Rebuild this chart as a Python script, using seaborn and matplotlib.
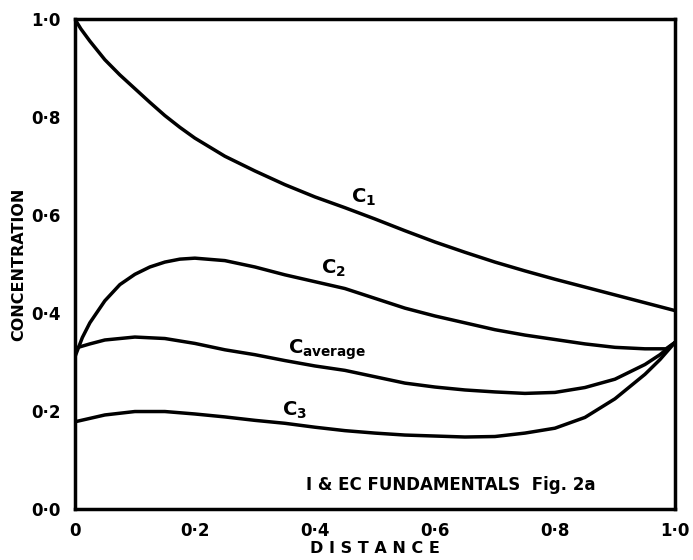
import pandas as pd
import seaborn as sns
import matplotlib.pyplot as plt

# Values
x_c1 = [0, 0.01, 0.025, 0.05, 0.075, 0.1, 0.125, 0.15, 0.175, 0.2, 0.25, 0.3,
        0.35, 0.4, 0.45, 0.5, 0.55, 0.6, 0.65, 0.7, 0.75, 0.8, 0.85, 0.9, 0.95,
        0.975, 1.0]
c1 = [1.0, 0.98, 0.955, 0.917, 0.886, 0.858, 0.83, 0.803, 0.779, 0.757, 0.72,
      0.69, 0.662, 0.637, 0.615, 0.592, 0.568, 0.545, 0.524, 0.504, 0.486,
      0.469, 0.453, 0.437, 0.421, 0.413, 0.405]

x_c2 = [0, 0.0125, 0.025, 0.05, 0.075, 0.1, 0.125, 0.15, 0.175, 0.2, 0.25, 0.3,
        0.35, 0.4, 0.45, 0.5, 0.55, 0.6, 0.65, 0.7, 0.75, 0.8, 0.85, 0.9, 0.95,
        0.985, 1.0]
c2 = [0.31, 0.35, 0.38, 0.425, 0.458, 0.479, 0.494, 0.504, 0.51, 0.512, 0.507,
      0.494, 0.478, 0.464, 0.45, 0.43, 0.41, 0.394, 0.38, 0.366, 0.355, 0.346,
      0.337, 0.33, 0.327, 0.327, 0.34]

x_cavg = [0, 0.025, 0.05, 0.1, 0.15, 0.2, 0.25, 0.3, 0.35, 0.4, 0.45, 0.5, 0.55,
          0.6, 0.65, 0.7, 0.75, 0.8, 0.85, 0.9, 0.95, 0.975, 1.0]
cavg = [0.328, 0.337, 0.345, 0.351, 0.348, 0.338, 0.325, 0.315, 0.303, 0.292,
        0.283, 0.27, 0.257, 0.249, 0.243, 0.239, 0.236, 0.238, 0.248, 0.265,
        0.295, 0.315, 0.34]

x_c3 = [0, 0.05, 0.1, 0.15, 0.2, 0.25, 0.3, 0.35, 0.4, 0.45, 0.5, 0.55, 0.6,
        0.65, 0.7, 0.75, 0.8, 0.85, 0.9, 0.95, 0.975, 1.0]
c3 = [0.178, 0.192, 0.199, 0.199, 0.194, 0.188, 0.181, 0.175, 0.167, 0.16,
      0.155, 0.151, 0.149, 0.147, 0.148, 0.155, 0.165, 0.187, 0.225, 0.275,
      0.305, 0.34]

x_ticks = [0, 0.2, 0.4, 0.6, 0.8, 1.0]
x_ticklabels = ['0', '0·2', '0·4', '0·6', '0·8', '1·0']
y_ticks = [0, 0.2, 0.4, 0.6, 0.8, 1.0]
y_ticklabels = ['0·0', '0·2', '0·4', '0·6', '0·8', '1·0']

sns.set_style('white')
plt.rcParams['font.family'] = ['DejaVu Sans']
plt.rcParams['mathtext.fontset'] = 'dejavusans'
plt.rcParams['text.color'] = 'black'
plt.rcParams['axes.labelcolor'] = 'black'
plt.rcParams['xtick.color'] = 'black'
plt.rcParams['ytick.color'] = 'black'

fig, ax = plt.subplots(figsize=(6.93, 5.6), dpi=100)
fig.subplots_adjust(left=0.108, right=0.974, bottom=0.091, top=0.966)

for xs, ys in [(x_c1, c1), (x_c2, c2), (x_cavg, cavg), (x_c3, c3)]:
    df = pd.DataFrame({'distance': xs, 'conc': ys})
    sns.lineplot(data=df, x='distance', y='conc', color='black', linewidth=2.5, ax=ax)

ax.set_xlim(0, 1)
ax.set_ylim(0, 1)
ax.set_xticks(x_ticks)
ax.set_xticklabels(x_ticklabels, fontsize=12, fontweight='bold')
ax.set_yticks(y_ticks)
ax.set_yticklabels(y_ticklabels, fontsize=12, fontweight='bold')
ax.tick_params(axis='x', direction='in', length=8, width=2.2, pad=9,
               top=False)
ax.tick_params(axis='y', direction='in', length=8, width=2.2, pad=10,
               right=False)
for s in ax.spines.values():
    s.set_linewidth(2.5)
    s.set_color('black')

ax.set_xlabel('D I S T A N C E', fontsize=11.5, fontweight='bold', labelpad=1)
ax.set_ylabel('CONCENTRATION', fontsize=11.5, fontweight='bold', labelpad=4)

# curve labels
ax.text(0.46, 0.625, r'$\mathbf{C_1}$', fontsize=14)
ax.text(0.41, 0.48, r'$\mathbf{C_2}$', fontsize=14)
ax.text(0.355, 0.318, r'$\mathbf{C_{average}}$', fontsize=14)
ax.text(0.345, 0.19, r'$\mathbf{C_3}$', fontsize=14)

ax.text(0.627, 0.05, 'I & EC FUNDAMENTALS  Fig. 2a', fontsize=12,
        fontweight='bold', ha='center', va='center')

plt.savefig('out.png', dpi=100)
